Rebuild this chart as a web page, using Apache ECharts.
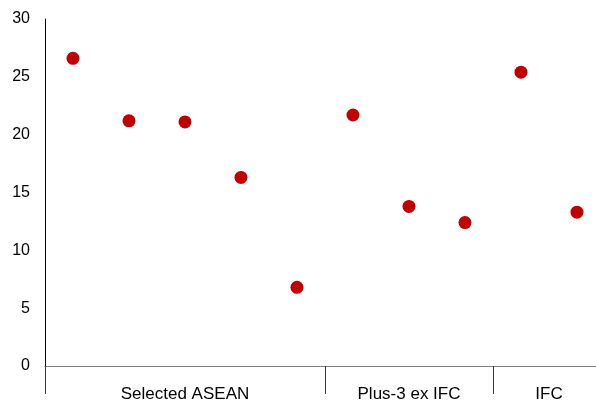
<!DOCTYPE html>
<html><head><meta charset="utf-8">
<script src="https://cdn.jsdelivr.net/npm/echarts@6/dist/echarts.min.js"></script>
<style>html,body{margin:0;padding:0;background:#fff}#c{width:596px;height:406px}</style>
</head><body><div id="c"></div>
<script>
const categories = ['A1','A2','A3','A4','A5','P1','P2','P3','I1','I2'];
const values = [26.6, 21.2, 21.1, 16.3, 6.8, 21.7, 13.8, 12.4, 25.4, 13.3];
const groupNames = ['Selected ASEAN', 'Plus-3 ex IFC', 'IFC'];
const groupSizes = [5, 3, 2];
const yTicks = [0, 5, 10, 15, 20, 25, 30];

// group boundaries and centers (in category units)
const boundaries = [0];
groupSizes.forEach(s => boundaries.push(boundaries[boundaries.length-1] + s));
const labelMap = {};
groupNames.forEach((g, i) => { labelMap[((boundaries[i] + boundaries[i+1]) / 2).toFixed(1)] = g; });

const chart = echarts.init(document.getElementById('c'), null, {renderer: 'canvas'});
const font = 'Liberation Sans, Arial, sans-serif';
chart.setOption({
  animation: false,
  grid: {left: 45, top: 19, width: 560, height: 347, containLabel: false, outerBoundsMode: 'none'},
  xAxis: [{
    type: 'category', data: categories, boundaryGap: true,
    axisLine: {show: true, lineStyle: {color: '#808080', width: 1}},
    axisTick: {show: true, length: 28, lineStyle: {color: '#333', width: 1},
      interval: (idx) => boundaries.slice(0, -1).includes(idx)},
    axisLabel: {show: false}, splitLine: {show: false}
  }, {
    type: 'value', min: 0, max: categories.length, interval: 0.5, position: 'bottom',
    axisLine: {show: false}, axisTick: {show: false}, splitLine: {show: false},
    axisLabel: {show: true, margin: 20, fontSize: 17, color: '#000', fontFamily: font,
      showMinLabel: true, showMaxLabel: true, hideOverlap: false,
      formatter: v => labelMap[v.toFixed(1)] || ''}
  }],
  yAxis: {
    type: 'value', min: yTicks[0], max: yTicks[yTicks.length-1], interval: 5,
    axisLine: {show: true, lineStyle: {color: '#000', width: 1}},
    axisTick: {show: false}, splitLine: {show: false},
    axisLabel: {margin: 15, fontSize: 16, color: '#000', fontFamily: font}
  },
  series: [{
    type: 'scatter', xAxisIndex: 0, data: values,
    symbol: 'circle', symbolSize: 13,
    itemStyle: {color: '#c00000', opacity: 1}
  }]
});
</script></body></html>
